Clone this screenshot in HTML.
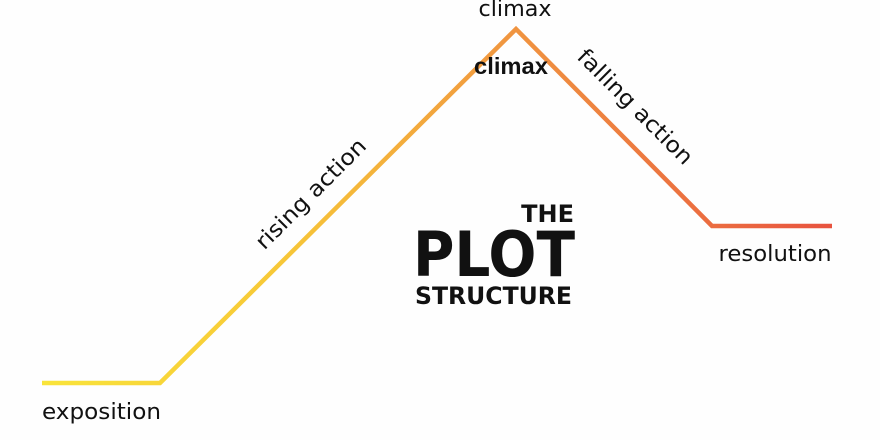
<!DOCTYPE html>
<html><head><style>
html,body{margin:0;padding:0;background:#fff;}
svg{display:block;}
text{font-family:"DejaVu Sans","Liberation Sans",sans-serif;fill:#111;}
</style></head><body>
<svg width="880" height="440" viewBox="0 0 880 440" xmlns="http://www.w3.org/2000/svg">
<defs>
<linearGradient id="g" x1="42" y1="0" x2="832" y2="0" gradientUnits="userSpaceOnUse">
<stop offset="0" stop-color="#f9e43a"/>
<stop offset="0.3" stop-color="#f7c838"/>
<stop offset="0.6" stop-color="#f09440"/>
<stop offset="0.8" stop-color="#ec7440"/>
<stop offset="1" stop-color="#e8533f"/>
</linearGradient>
</defs>
<rect width="880" height="440" fill="#fefefe"/>
<polyline points="42,383 160,383 516,29 712,226 832,226" fill="none" stroke="url(#g)" stroke-width="4.5" stroke-linejoin="miter"/>
<text x="515" y="16" font-size="22" text-anchor="middle" textLength="73" lengthAdjust="spacingAndGlyphs">climax</text>
<text x="511" y="74" font-size="23" font-weight="bold" text-anchor="middle" textLength="74" lengthAdjust="spacingAndGlyphs" style="font-family:'Liberation Sans',sans-serif">climax</text>
<text x="42" y="419" font-size="22" textLength="119" lengthAdjust="spacingAndGlyphs">exposition</text>
<text x="775" y="261" font-size="22" text-anchor="middle" textLength="113" lengthAdjust="spacingAndGlyphs">resolution</text>
<text transform="translate(316,199) rotate(-45)" font-size="22" text-anchor="middle" textLength="146" lengthAdjust="spacingAndGlyphs">rising action</text>
<text transform="translate(630,112) rotate(45)" font-size="22" text-anchor="middle" textLength="153" lengthAdjust="spacingAndGlyphs">falling action</text>
<text x="574" y="222" font-size="24" font-weight="bold" text-anchor="end">THE</text>
<text x="413" y="276" font-size="62" font-weight="bold" textLength="162" lengthAdjust="spacingAndGlyphs">PLOT</text>
<text x="415" y="304" font-size="24" font-weight="bold" textLength="157" lengthAdjust="spacingAndGlyphs">STRUCTURE</text>
</svg>
</body></html>
